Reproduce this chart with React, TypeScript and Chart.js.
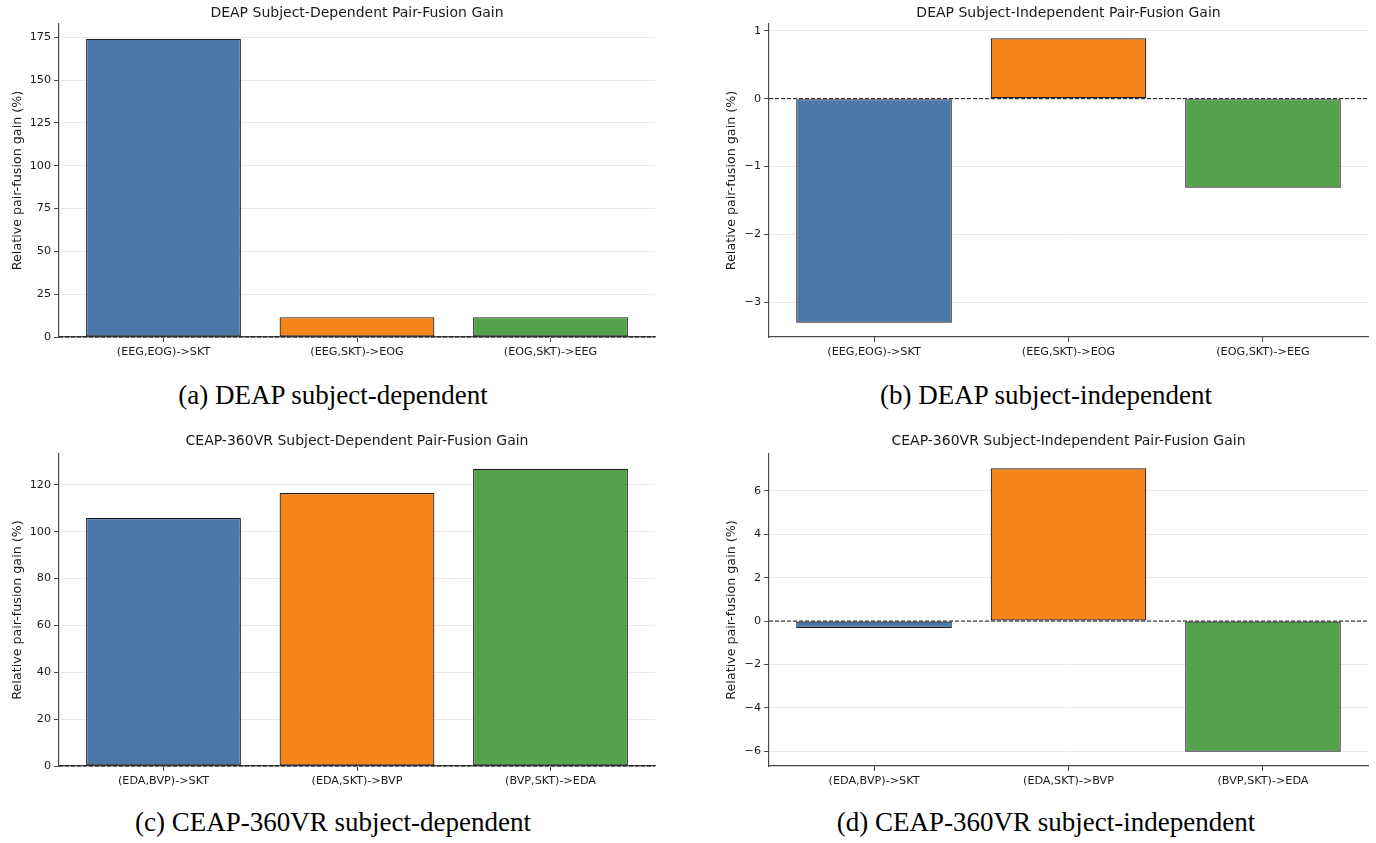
import React, { useEffect, useRef } from "react";
import { Chart, registerables } from "chart.js";

Chart.register(...registerables);

// ---------------- data ----------------
const BAR_COLORS = ["#4C78A8", "#F58518", "#54A24B"];

const DEAP_CATEGORIES = ["(EEG,EOG)->SKT", "(EEG,SKT)->EOG", "(EOG,SKT)->EEG"];
const CEAP_CATEGORIES = ["(EDA,BVP)->SKT", "(EDA,SKT)->BVP", "(BVP,SKT)->EDA"];

const DEAP_DEP_VALUES = [174.0, 11.6, 11.6];
const DEAP_INDEP_VALUES = [-3.3, 0.89, -1.31];
const CEAP_DEP_VALUES = [105.8, 116.5, 126.8];
const CEAP_INDEP_VALUES = [-0.32, 7.05, -6.03];

const DEAP_DEP_TICKS = [0, 25, 50, 75, 100, 125, 150, 175];
const DEAP_INDEP_TICKS = [-3, -2, -1, 0, 1];
const CEAP_DEP_TICKS = [0, 20, 40, 60, 80, 100, 120];
const CEAP_INDEP_TICKS = [-6, -4, -2, 0, 2, 4, 6];

const TITLES = [
  "DEAP Subject-Dependent Pair-Fusion Gain",
  "DEAP Subject-Independent Pair-Fusion Gain",
  "CEAP-360VR Subject-Dependent Pair-Fusion Gain",
  "CEAP-360VR Subject-Independent Pair-Fusion Gain",
];
const CAPTIONS = [
  "(a) DEAP subject-dependent",
  "(b) DEAP subject-independent",
  "(c) CEAP-360VR subject-dependent",
  "(d) CEAP-360VR subject-independent",
];
const Y_LABEL = "Relative pair-fusion gain (%)";

// ---------------- styling ----------------
const SANS = "'DejaVu Sans', sans-serif";
const TEXT = "#1a1a1a";
const SPINE = "#4a4a4a";

type Layout = {
  left: number;
  top: number;
  width: number;
  height: number;
  yAxisWidth: number;
  padRight: number;
  xAxisHeight: number;
  titlePadTop: number;
  titlePadBottom: number;
  yTitlePad: number;
};

const fmtTick = (v: number) => (v < 0 ? "\u2212" + String(Math.abs(v)) : String(v));

const zeroLinePlugin = {
  id: "zeroLine",
  afterDatasetsDraw(chart: any) {
    const { ctx, chartArea, scales } = chart;
    const py = scales.y.getPixelForValue(0);
    ctx.save();
    ctx.strokeStyle = "#111111";
    ctx.lineWidth = 1;
    ctx.setLineDash([4, 2]);
    ctx.beginPath();
    ctx.moveTo(chartArea.left, py);
    ctx.lineTo(chartArea.right, py);
    ctx.stroke();
    ctx.restore();
  },
};

function Panel(props: {
  title: string;
  categories: string[];
  values: number[];
  ticks: number[];
  layout: Layout;
}) {
  const ref = useRef<HTMLCanvasElement | null>(null);
  const { title, categories, values, ticks, layout } = props;

  useEffect(() => {
    if (!ref.current) return;
    const n = values.length;
    const xMargin = 0.05 * (n - 1 + 0.8);
    const xMin = -0.4 - xMargin;
    const xMax = n - 1 + 0.4 + xMargin;
    const dMin = Math.min(0, ...values);
    const dMax = Math.max(0, ...values);
    const span = dMax - dMin;
    const yMin = dMin < 0 ? dMin - 0.05 * span : 0;
    const yMax = dMax > 0 ? dMax + 0.05 * span : 0;

    const chart = new Chart(ref.current, {
      type: "bar",
      data: {
        datasets: [
          {
            data: values.map((v, i) => ({ x: i, y: v })),
            backgroundColor: BAR_COLORS,
            borderColor: "#1a1a1a",
            borderWidth: 1.2,
            borderSkipped: false,
            barPercentage: 0.8,
            categoryPercentage: 1,
          } as any,
        ],
      },
      options: {
        animation: false,
        responsive: false,
        maintainAspectRatio: false,
        layout: { padding: { left: 0, right: layout.padRight, top: 0, bottom: 0 } },
        plugins: {
          legend: { display: false },
          tooltip: { enabled: false },
          title: {
            display: true,
            text: title,
            fullSize: false,
            color: TEXT,
            font: { family: SANS, size: 14, weight: "normal", lineHeight: 1.2 },
            padding: { top: layout.titlePadTop, bottom: layout.titlePadBottom },
          },
        },
        scales: {
          x: {
            type: "linear",
            min: xMin,
            max: xMax,
            offset: false,
            afterBuildTicks: (s: any) => {
              s.ticks = categories.map((_, i) => ({ value: i }));
            },
            afterFit: (s: any) => {
              s.height = layout.xAxisHeight;
            },
            ticks: {
              callback: (v: any) => categories[Math.round(Number(v))],
              color: TEXT,
              font: { family: SANS, size: 11.2 },
              padding: 3,
              maxRotation: 0,
              autoSkip: false,
            },
            grid: {
              offset: false,
              drawOnChartArea: false,
              drawTicks: true,
              tickLength: 5,
              tickColor: SPINE,
            },
            border: { display: true, color: SPINE, width: 1.2 },
          },
          y: {
            type: "linear",
            min: yMin,
            max: yMax,
            afterBuildTicks: (s: any) => {
              s.ticks = ticks.map((v) => ({ value: v }));
            },
            afterFit: (s: any) => {
              s.width = layout.yAxisWidth;
            },
            ticks: {
              callback: (v: any) => fmtTick(Number(v)),
              color: TEXT,
              font: { family: SANS, size: 11.2 },
              padding: 3,
            },
            grid: {
              color: "#e9e9e9",
              lineWidth: 1,
              drawTicks: true,
              tickLength: 5,
              tickColor: SPINE,
            },
            border: { display: true, color: SPINE, width: 1.2 },
            title: {
              display: true,
              text: Y_LABEL,
              color: TEXT,
              font: { family: SANS, size: 12.7, lineHeight: 1.2 },
              padding: { top: layout.yTitlePad, bottom: 0 },
            },
          },
        },
      } as any,
      plugins: [zeroLinePlugin],
    });
    return () => chart.destroy();
  }, []);

  return (
    <canvas
      ref={ref}
      width={layout.width}
      height={layout.height}
      style={{
        position: "absolute",
        left: layout.left,
        top: layout.top,
        width: layout.width,
        height: layout.height,
      }}
    />
  );
}

const LAYOUTS: Layout[] = [
  { left: 0, top: 0, width: 660, height: 365, yAxisWidth: 59, padRight: 5, xAxisHeight: 28, titlePadTop: 4.9, titlePadBottom: 2.3, yTitlePad: 10.2 },
  { left: 690, top: 0, width: 686, height: 365, yAxisWidth: 79, padRight: 8, xAxisHeight: 28, titlePadTop: 4.9, titlePadBottom: 2.3, yTitlePad: 34.2 },
  { left: 0, top: 428, width: 660, height: 365, yAxisWidth: 59, padRight: 5, xAxisHeight: 27, titlePadTop: 5.3, titlePadBottom: 3.9, yTitlePad: 10.2 },
  { left: 690, top: 428, width: 686, height: 365, yAxisWidth: 79, padRight: 8, xAxisHeight: 27, titlePadTop: 5.3, titlePadBottom: 3.9, yTitlePad: 34.2 },
];

const CAPTION_POS = [
  { cx: 333, top: 381 },
  { cx: 1046, top: 381 },
  { cx: 333, top: 808 },
  { cx: 1046, top: 808 },
];

export default function App() {
  const panels = [
    { categories: DEAP_CATEGORIES, values: DEAP_DEP_VALUES, ticks: DEAP_DEP_TICKS },
    { categories: DEAP_CATEGORIES, values: DEAP_INDEP_VALUES, ticks: DEAP_INDEP_TICKS },
    { categories: CEAP_CATEGORIES, values: CEAP_DEP_VALUES, ticks: CEAP_DEP_TICKS },
    { categories: CEAP_CATEGORIES, values: CEAP_INDEP_VALUES, ticks: CEAP_INDEP_TICKS },
  ];
  return (
    <div
      style={{
        position: "absolute",
        left: 0,
        top: 0,
        width: 1376,
        height: 843,
        background: "#ffffff",
        overflow: "hidden",
      }}
    >
      {panels.map((p, i) => (
        <Panel
          key={i}
          title={TITLES[i]}
          categories={p.categories}
          values={p.values}
          ticks={p.ticks}
          layout={LAYOUTS[i]}
        />
      ))}
      {CAPTIONS.map((c, i) => (
        <div
          key={"cap" + i}
          style={{
            position: "absolute",
            left: CAPTION_POS[i].cx,
            top: CAPTION_POS[i].top,
            transform: "translateX(-50%)",
            whiteSpace: "nowrap",
            fontFamily: "'Liberation Serif', 'Times New Roman', serif",
            fontSize: 27,
            lineHeight: "28px",
            color: "#000000",
          }}
        >
          {c}
        </div>
      ))}
    </div>
  );
}
